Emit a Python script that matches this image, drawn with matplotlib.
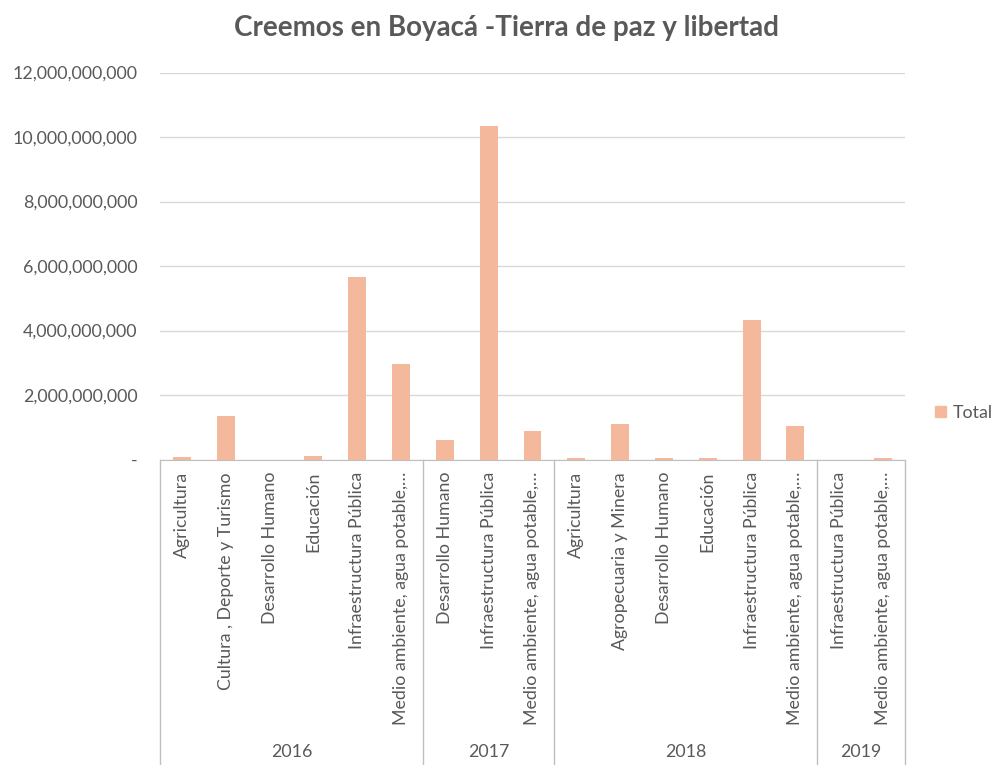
import matplotlib.pyplot as plt
from matplotlib.ticker import FuncFormatter
from matplotlib.patches import Patch
import matplotlib.transforms as mtransforms

plt.rcParams['font.family'] = ['Lato', 'DejaVu Sans']

# Data
years = ['2016', '2017', '2018', '2019']
categories = [
    # 2016
    'Agricultura', 'Cultura , Deporte y Turismo', 'Desarrollo Humano', 'Educación',
    'Infraestructura Pública', 'Medio ambiente, agua potable,…',
    # 2017
    'Desarrollo Humano', 'Infraestructura Pública', 'Medio ambiente, agua potable,…',
    # 2018
    'Agricultura', 'Agropecuaria y Minera', 'Desarrollo Humano', 'Educación',
    'Infraestructura Pública', 'Medio ambiente, agua potable,…',
    # 2019
    'Infraestructura Pública', 'Medio ambiente, agua potable,…',
]
group_sizes = [6, 3, 6, 2]
totals = [
    0.07e9, 1.34e9, 0.0, 0.12e9, 5.67e9, 2.95e9,
    0.59e9, 10.35e9, 0.88e9,
    0.06e9, 1.10e9, 0.06e9, 0.06e9, 4.34e9, 1.04e9,
    0.0, 0.05e9,
]

bar_color = '#F4B99C'
text_color = '#595959'
line_color = '#BFBFBF'
fs = 12.8

fig = plt.figure(figsize=(9.98, 7.65), dpi=100)
ax = fig.add_axes([160 / 998, 1 - 459.5 / 765, 745 / 998, 387 / 765])

x = list(range(len(categories)))
ax.bar(x, totals, width=0.41, color=bar_color, zorder=3)

ax.set_xlim(-0.5, len(categories) - 0.5)
ax.set_ylim(0, 12e9)
ax.set_yticks([i * 2e9 for i in range(7)])
ax.yaxis.set_major_formatter(FuncFormatter(lambda v, p: '-' if v == 0 else f'{v:,.0f}'))
ax.grid(axis='y', color='#D9D9D9', linewidth=1, zorder=0)

for s in ['top', 'right', 'left']:
    ax.spines[s].set_visible(False)
ax.spines['bottom'].set_color(line_color)

ax.tick_params(axis='y', length=0, pad=16, labelsize=fs, labelcolor=text_color)
ax.set_xticks(x)
ax.set_xticklabels(categories, rotation=90, va='top', ha='center')
ax.tick_params(axis='x', length=0, pad=9, labelsize=fs, labelcolor=text_color)

# multi-level category axis: separators and year labels
trans = mtransforms.blended_transform_factory(ax.transData, fig.transFigure)
bounds = [-0.5]
for n in group_sizes:
    bounds.append(bounds[-1] + n)
for b in bounds:
    ax.plot([b, b], [1 - 459.5 / 765, 0], transform=trans, color=line_color,
            linewidth=1, clip_on=False)
for i, yr in enumerate(years):
    ax.text((bounds[i] + bounds[i + 1]) / 2, 1 - 752 / 765, yr, transform=trans,
            ha='center', va='center', fontsize=fs, color=text_color)

fig.text(507 / 998, 1 - 28 / 765, 'Creemos en Boyacá -Tierra de paz y libertad',
         ha='center', va='center', fontsize=20, fontweight='bold', color=text_color)

fig.legend(handles=[Patch(color=bar_color, label='Total')], loc='center left',
           bbox_to_anchor=(928 / 998, 1 - 413 / 765), frameon=False,
           fontsize=fs, labelcolor=text_color, handlelength=0.6, handleheight=0.6,
           handletextpad=0.4, borderaxespad=0)

fig.savefig('out.png', dpi=100)
